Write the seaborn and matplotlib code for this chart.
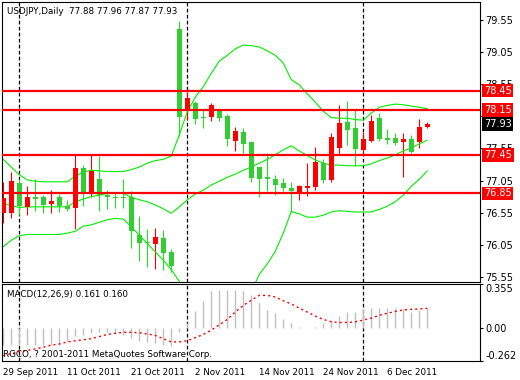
import numpy as np
import pandas as pd
import matplotlib
matplotlib.use("Agg")
import matplotlib.pyplot as plt
import matplotlib.transforms as mtransforms
import seaborn as sns

# ---------------------------------------------------------
# Data (one bar per trading day)
# ---------------------------------------------------------
dates = pd.bdate_range("2011-09-29", "2011-12-13")

opens = [76.55, 76.55, 77.01, 76.64, 76.79, 76.79, 76.69, 76.79, 76.65, 76.63,
         77.24, 76.86, 77.07, 76.82, 76.79, 76.79, 76.79, 76.20, 76.08, 76.06,
         76.15, 75.94, 79.41, 78.15, 78.26, 78.04, 78.04, 78.17, 78.05, 77.67,
         77.81, 77.65, 77.26, 77.10, 77.07, 77.01, 76.93, 76.87, 76.94, 76.95,
         77.33, 77.06, 77.56, 77.96, 77.87, 77.53, 77.67, 78.02, 77.71, 77.71,
         77.65, 77.70, 77.65, 77.88]
highs = [77.02, 77.19, 77.08, 76.96, 77.07, 76.82, 76.90, 76.84, 76.75, 77.47,
         77.29, 77.45, 77.43, 76.90, 76.86, 77.07, 76.89, 76.49, 76.29, 76.31,
         76.28, 75.99, 79.53, 78.43, 78.29, 78.17, 78.26, 78.17, 78.09, 77.88,
         77.87, 77.67, 77.26, 77.48, 77.14, 77.09, 77.03, 76.98, 77.32, 77.57,
         77.38, 77.79, 78.23, 78.29, 78.15, 77.81, 78.07, 78.10, 77.85, 77.79,
         77.79, 77.76, 78.01, 77.96]
lows = [76.39, 76.47, 76.51, 76.51, 76.58, 76.55, 76.55, 76.56, 76.58, 76.30,
        76.66, 76.80, 76.58, 76.61, 76.63, 76.63, 76.00, 75.80, 75.71, 75.68,
        75.65, 75.63, 77.74, 77.99, 77.93, 77.87, 77.97, 77.97, 77.58, 77.51,
        77.48, 77.03, 76.80, 76.89, 76.83, 76.89, 76.56, 76.74, 76.81, 76.90,
        77.01, 77.03, 77.47, 77.60, 77.28, 77.47, 77.65, 77.67, 77.62, 77.60,
        77.10, 77.48, 77.55, 77.87]
closes = [76.78, 77.04, 76.65, 76.79, 76.76, 76.67, 76.73, 76.66, 76.61, 77.24,
          76.86, 77.20, 76.82, 76.80, 76.78, 76.78, 76.27, 76.08, 76.07, 76.17,
          75.92, 75.72, 78.04, 78.34, 78.01, 78.03, 78.23, 78.03, 77.69, 77.82,
          77.62, 77.09, 77.07, 77.07, 76.98, 76.94, 76.89, 76.96, 76.96, 77.34,
          77.06, 77.73, 77.95, 77.84, 77.54, 77.70, 77.98, 77.69, 77.68, 77.63,
          77.70, 77.49, 77.88, 77.93]

# Bollinger bands (lower band runs off the bottom in Nov)
bb_upper = [77.38, 77.26, 77.14, 77.06, 77.04, 77.03, 77.03, 77.03, 77.03, 77.12,
            77.18, 77.21, 77.20, 77.19, 77.19, 77.19, 77.22, 77.26, 77.32, 77.36,
            77.38, 77.43, 77.76, 78.12, 78.35, 78.51, 78.72, 78.91, 79.00, 79.10,
            79.16, 79.15, 79.13, 79.07, 79.00, 78.88, 78.62, 78.54, 78.40, 78.27,
            78.13, 78.03, 78.02, 78.02, 78.00, 77.99, 78.10, 78.19, 78.22, 78.24,
            78.23, 78.21, 78.19, 78.17]
bb_middle = [76.69, 76.66, 76.63, 76.64, 76.64, 76.64, 76.64, 76.64, 76.64, 76.72,
             76.76, 76.80, 76.82, 76.85, 76.85, 76.85, 76.79, 76.75, 76.72, 76.67,
             76.61, 76.54, 76.64, 76.75, 76.84, 76.90, 76.98, 77.04, 77.10, 77.15,
             77.21, 77.26, 77.32, 77.38, 77.45, 77.53, 77.59, 77.51, 77.44, 77.37,
             77.32, 77.29, 77.29, 77.28, 77.28, 77.28, 77.31, 77.36, 77.40, 77.45,
             77.51, 77.56, 77.62, 77.68]
bb_lower = [76.02, 76.12, 76.19, 76.21, 76.21, 76.21, 76.21, 76.21, 76.23, 76.26,
            76.34, 76.36, 76.40, 76.44, 76.46, 76.45, 76.33, 76.20, 76.07, 75.94,
            75.81, 75.66, 75.48, 75.19, 74.96, 74.80, 74.72, 74.72, 74.80, 74.96,
            75.11, 75.31, 75.59, 75.75, 75.95, 76.23, 76.57, 76.53, 76.48, 76.48,
            76.51, 76.56, 76.58, 76.57, 76.56, 76.56, 76.56, 76.60, 76.65, 76.72,
            76.82, 76.96, 77.07, 77.20]

# MACD(12,26,9): main histogram and signal line
macd_main = [-0.13, -0.13, -0.13, -0.13, -0.13, -0.13, -0.13, -0.13, -0.10, -0.06,
             -0.05, -0.04, -0.03, -0.03, -0.04, -0.05, -0.08, -0.10, -0.11, -0.12,
             -0.13, -0.14, -0.03, 0.04, 0.14, 0.22, 0.30, 0.31, 0.31, 0.31,
             0.30, 0.27, 0.20, 0.147, 0.12, 0.072, 0.04, 0.013, 0.004, 0.013,
             0.045, 0.066, 0.099, 0.13, 0.13, 0.152, 0.163, 0.163, 0.163, 0.163,
             0.152, 0.13, 0.147, 0.161]
macd_signal = [-0.220, -0.203, -0.186, -0.177, -0.165, -0.152, -0.135, -0.126, -0.109, -0.100,
               -0.092, -0.083, -0.066, -0.049, -0.040, -0.032, -0.032, -0.036, -0.045, -0.057,
               -0.083, -0.109, -0.109, -0.100, -0.075, -0.049, -0.015, 0.028, 0.071, 0.131,
               0.183, 0.225, 0.264, 0.264, 0.251, 0.221, 0.195, 0.162, 0.130, 0.098,
               0.071, 0.052, 0.047, 0.047, 0.052, 0.066, 0.082, 0.104, 0.120, 0.135,
               0.147, 0.152, 0.155, 0.160]

# horizontal support / resistance levels
levels = [78.45, 78.15, 77.45, 76.85]
price_ticks = [79.55, 79.05, 78.55, 78.05, 77.55, 77.05, 76.55, 76.05, 75.55]
date_labels = ["29 Sep 2011", "11 Oct 2011", "21 Oct 2011", "2 Nov 2011",
               "14 Nov 2011", "24 Nov 2011", "6 Dec 2011"]

# ---------------------------------------------------------
# Figure setup
# ---------------------------------------------------------
sns.set_theme(style="white")
plt.rcParams["font.family"] = ["DejaVu Sans"]

fig = plt.figure(figsize=(5.2, 3.8), dpi=100)
fig.patch.set_facecolor("white")
ax = fig.add_axes([2 / 520, 1 - 282 / 380, 478 / 520, 280 / 380])
ax2 = fig.add_axes([2 / 520, 1 - 361 / 380, 478 / 520, 77 / 380])

x = np.arange(len(dates))
o = np.array(opens)
c = np.array(closes)
up = c >= o
body_col = np.where(up, "#ff0000", "#32cd32")
wick_col = np.where(up, "#ff0000", "#22e022")

# candles
ax.vlines(x, lows, highs, colors=wick_col, lw=0.8, zorder=2)
ax.bar(x, np.maximum(np.abs(c - o), 0.016), bottom=np.minimum(o, c), width=0.62,
       color=body_col, lw=0, zorder=3)

# bollinger bands
for band in (bb_upper, bb_middle, bb_lower):
    sns.lineplot(x=x, y=band, ax=ax, color="#00ee00", lw=0.8, zorder=2)

# red levels
for lvl in levels:
    ax.axhline(lvl, color="red", lw=1.6, zorder=4)

# month separators
month_starts = [i for i in range(1, len(dates)) if dates[i].month != dates[i - 1].month]
for axx in (ax, ax2):
    for m in month_starts:
        axx.axvline(m, color="black", lw=0.9, ls=(0, (3, 1.8)), zorder=1)

ax.set_xlim(-0.16, 59.59)
ax.set_ylim(75.47, 79.83)
ax.set_xticks([])
ax.yaxis.tick_right()
ax.set_yticks(price_ticks)
ax.set_yticklabels([f"{p:.2f}" for p in price_ticks])
ax.tick_params(axis="y", direction="out", length=2.5, width=0.8, pad=1.5,
               labelsize=7, colors="black")

# price boxes on the right
tr = mtransforms.blended_transform_factory(ax.transAxes, ax.transData)
for lvl in levels:
    ax.text(1.008, lvl, f"{lvl:.2f}", transform=tr, ha="left", va="center",
            fontsize=7, color="white", clip_on=False, zorder=10,
            bbox=dict(facecolor="red", edgecolor="none", pad=1.3))
ax.text(1.008, closes[-1], f"{closes[-1]:.2f}", transform=tr, ha="left", va="center",
        fontsize=7, color="white", clip_on=False, zorder=10,
        bbox=dict(facecolor="black", edgecolor="none", pad=1.3))

ax.text(0.011, 0.965, "USDJPY,Daily  %.2f %.2f %.2f %.2f" % (opens[-1], highs[-1], lows[-1], closes[-1]),
        transform=ax.transAxes, fontsize=6.3, color="black", ha="left", va="center")

# ---------------------------------------------------------
# MACD panel
# ---------------------------------------------------------
ax2.vlines(x, 0, macd_main, colors="#c0c0c0", lw=1.0, zorder=2)
sns.lineplot(x=x, y=macd_signal, ax=ax2, color="red", lw=1.0,
             linestyle=(0, (1.5, 2.2)), zorder=3)

ax2.set_xlim(-0.16, 59.59)
ax2.set_ylim(-0.262, 0.355)
ax2.yaxis.tick_right()
ax2.set_yticks([0.355, 0.0, -0.262])
ax2.set_yticklabels(["0.355", "0.00", "-0.262"])
ax2.tick_params(axis="y", direction="out", length=2.5, width=0.8, pad=1.5,
                labelsize=7, colors="black")
ylabs = ax2.get_yticklabels()
ylabs[0].set_verticalalignment("top")
ylabs[2].set_verticalalignment("bottom")

lab_pos = [list(dates.strftime("%-d %b %Y")).index(d) for d in date_labels]
ax2.set_xticks(lab_pos)
ax2.set_xticklabels(date_labels)
ax2.tick_params(axis="x", direction="out", length=3, width=0.8, pad=2,
                labelsize=6.3, colors="black")
for lab in ax2.get_xticklabels():
    lab.set_horizontalalignment("left")

ax2.text(0.011, 0.86, "MACD(12,26,9) %.3f %.3f" % (macd_main[-1], macd_signal[-1]),
         transform=ax2.transAxes, fontsize=6.3, color="black", ha="left", va="center")
ax2.text(0.003, 0.08, "RGCO, ? 2001-2011 MetaQuotes Software Corp.",
         transform=ax2.transAxes, fontsize=6.3, color="black", ha="left", va="center")

for axx in (ax, ax2):
    axx.set_facecolor("white")
    axx.grid(False)
    axx.set_xlabel("")
    axx.set_ylabel("")
    for sp in axx.spines.values():
        sp.set_visible(True)
        sp.set_color("black")
        sp.set_linewidth(0.8)

fig.savefig("out.png", dpi=100, facecolor="white")
plt.close()
